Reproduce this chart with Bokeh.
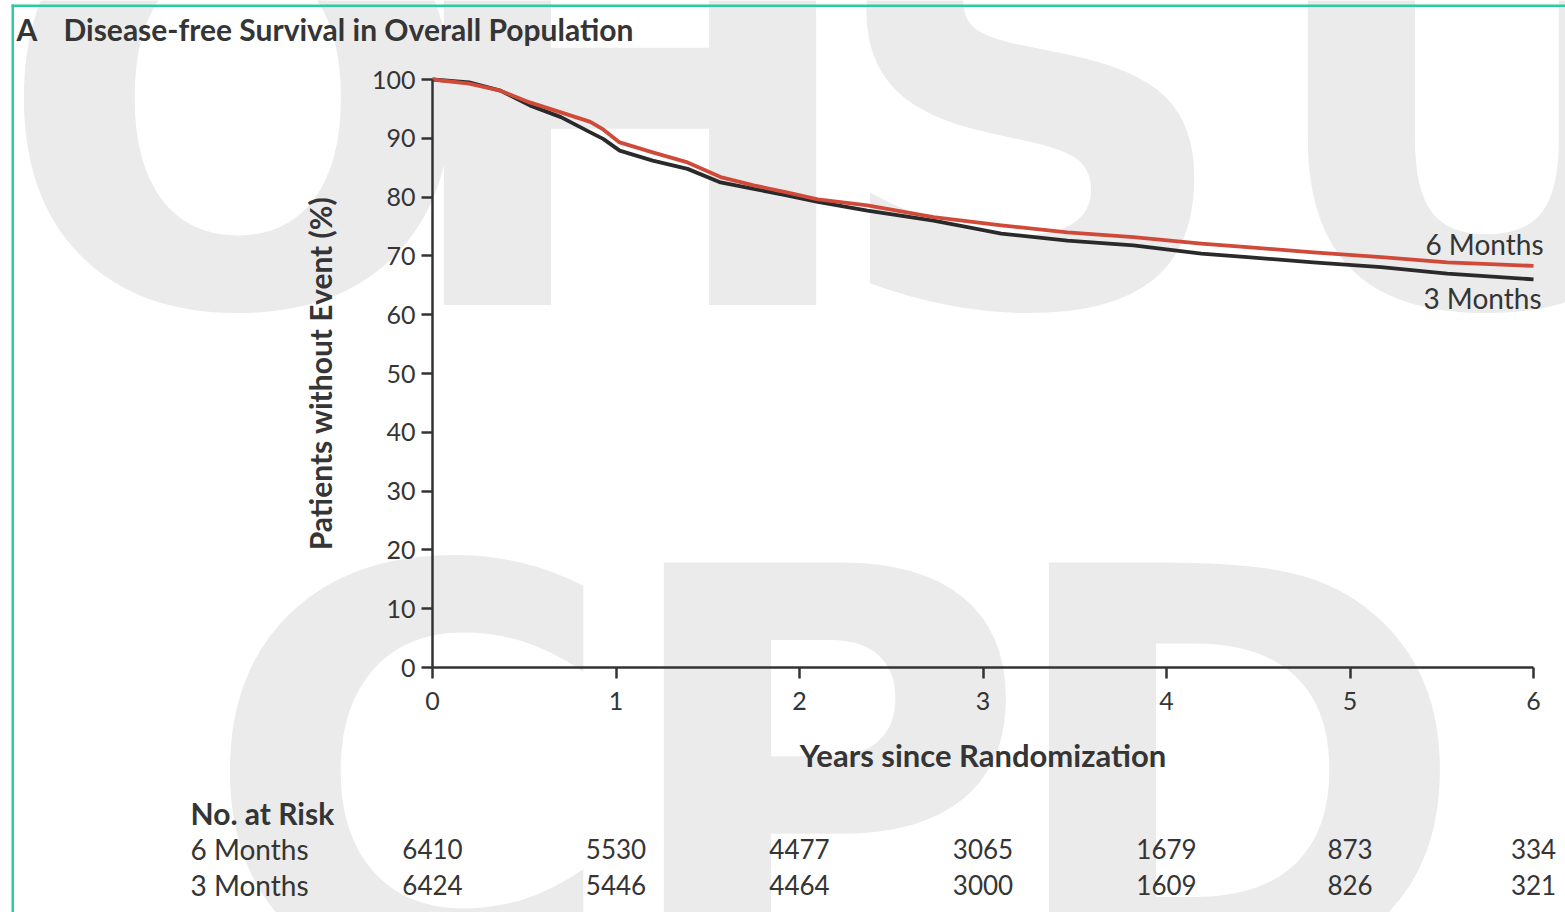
from bokeh.plotting import figure
from bokeh.models import Label, BoxAnnotation, FixedTicker, Range1d
from bokeh.embed import file_html
from bokeh.resources import INLINE

# ---------------- data ----------------
years = [0, 0.2, 0.37, 0.53, 0.7, 0.86, 0.93, 1.02, 1.2, 1.39, 1.57, 1.75, 1.93, 2.1,
         2.37, 2.73, 3.1, 3.46, 3.82, 4.19, 4.44, 4.8, 5.17, 5.53, 6.0]
dfs_3_months = [100, 99.5, 98.1, 95.6, 93.6, 91.0, 89.9, 87.9, 86.2, 84.8, 82.5, 81.4, 80.3, 79.2,
                77.7, 76.0, 73.8, 72.6, 71.8, 70.4, 69.8, 68.9, 68.1, 67.0, 66.0]
dfs_6_months = [100, 99.3, 98.1, 96.1, 94.4, 92.8, 91.5, 89.3, 87.6, 85.9, 83.4, 82.0, 80.8, 79.6,
                78.6, 76.6, 75.2, 74.0, 73.2, 72.1, 71.5, 70.6, 69.8, 68.9, 68.3]

risk_years = [0, 1, 2, 3, 4, 5, 6]
risk_6_months = [6410, 5530, 4477, 3065, 1679, 873, 334]
risk_3_months = [6424, 5446, 4464, 3000, 1609, 826, 321]

x_ticks = [0, 1, 2, 3, 4, 5, 6]
y_ticks = [0, 10, 20, 30, 40, 50, 60, 70, 80, 90, 100]

title_letter = "A"
title_text = "Disease-free Survival in Overall Population"
x_label = "Years since Randomization"
y_label = "Patients without Event (%)"
group_names = ["6 Months", "3 Months"]
watermark_top = ["O", "H", "S", "U"]
watermark_bottom = ["C", "P", "D"]

# ---------------- layout ----------------
W, H = 1565, 912
X0_PX, Y0_PX = 432, 667      # pixel of (0 years, 0 %)
PX_YEAR = 183.5
PX_PCT = 5.88

def dx(px):  # pixel -> data x
    return (px - X0_PX) / PX_YEAR

def dy(py):  # pixel -> data y
    return (Y0_PX - py) / PX_PCT

TXT = "#353535"
FONT = "Lato"

p = figure(width=W, height=H, output_backend="svg", toolbar_location=None,
           x_range=Range1d(dx(0), dx(W)), y_range=Range1d(dy(H), dy(0)),
           min_border=0)
p.grid.visible = False
p.outline_line_color = None
p.background_fill_color = "white"
p.border_fill_color = "white"

# watermark
WM = "#ebebeb"
for ch, ix in zip(watermark_top, [-5, 391, 825, 1255]):
    p.add_layout(Label(x=dx(ix), y=dy(107), text=ch, text_font="DejaVu Sans",
                       text_font_style="bold", text_font_size="570px", text_color=WM,
                       text_align="left", text_baseline="middle", level="underlay"))
for ch, ix in zip(watermark_bottom, [201, 611, 996]):
    p.add_layout(Label(x=dx(ix), y=dy(780), text=ch, text_font="DejaVu Sans",
                       text_font_style="bold", text_font_size="570px", text_color=WM,
                       text_align="left", text_baseline="middle", level="underlay"))

# frame border (teal)
TEAL = "#2fcb9c"
p.add_layout(BoxAnnotation(left=dx(11), right=dx(13.5), bottom=dy(W), top=dy(4),
                           fill_color=TEAL, fill_alpha=1, line_color=None, level="underlay"))
p.add_layout(BoxAnnotation(left=dx(11), right=dx(W + 10), bottom=dy(6.5), top=dy(4),
                           fill_color=TEAL, fill_alpha=1, line_color=None, level="underlay"))

# curves
p.line(years, dfs_3_months, line_color="#2a2a2a", line_width=3.8, line_join="round")
p.line(years, dfs_6_months, line_color="#d04a3a", line_width=3.8, line_join="round")

# axes
for ax in (p.xaxis[0], p.yaxis[0]):
    ax.fixed_location = 0
    ax.axis_line_color = "#333333"
    ax.axis_line_width = 2.5
    ax.major_tick_line_color = "#333333"
    ax.major_tick_line_width = 2.5
    ax.major_tick_out = 11
    ax.major_tick_in = 0
    ax.minor_tick_line_color = None
    ax.major_label_text_font = FONT
    ax.major_label_text_font_size = "25px"
    ax.major_label_text_color = TXT
    ax.axis_label_text_font = FONT
    ax.axis_label_text_font_style = "bold"
    ax.axis_label_text_font_size = "30px"
    ax.axis_label_text_color = TXT

p.xaxis.ticker = FixedTicker(ticks=x_ticks)
p.xaxis.bounds = (0, 6)
p.xaxis.major_label_standoff = 13
p.xaxis.axis_label = x_label
p.xaxis.axis_label_standoff = 23
p.xaxis.axis_label_text_font_size = "31px"

p.yaxis.ticker = FixedTicker(ticks=y_ticks)
p.yaxis.bounds = (0, 100)
p.yaxis.major_label_standoff = 6
p.yaxis.axis_label = y_label
p.yaxis.axis_label_standoff = 31

def lab(x, y, text, size="26px", style="normal", align="left", color=TXT, font=FONT):
    p.add_layout(Label(x=x, y=y, text=text, text_font=font, text_font_size=size,
                       text_font_style=style, text_align=align, text_baseline="middle",
                       text_color=color))

# title
lab(dx(16), dy(28), title_letter, size="30px", style="bold")
lab(dx(63), dy(28), title_text, size="30px", style="bold")

# curve labels
lab(dx(1543), dy(243), group_names[0], size="28px", align="right")
lab(dx(1541), dy(297), group_names[1], size="28px", align="right")

# number at risk
lab(dx(190), dy(812), "No. at Risk", size="30px", style="bold")
lab(dx(190), dy(848), group_names[0], size="28px")
lab(dx(190), dy(884), group_names[1], size="28px")
for yr, n6, n3 in zip(risk_years, risk_6_months, risk_3_months):
    lab(yr, dy(848), str(n6), size="26px", align="center")
    lab(yr, dy(884), str(n3), size="26px", align="center")

open("out.html", "w").write(file_html(p, INLINE))
